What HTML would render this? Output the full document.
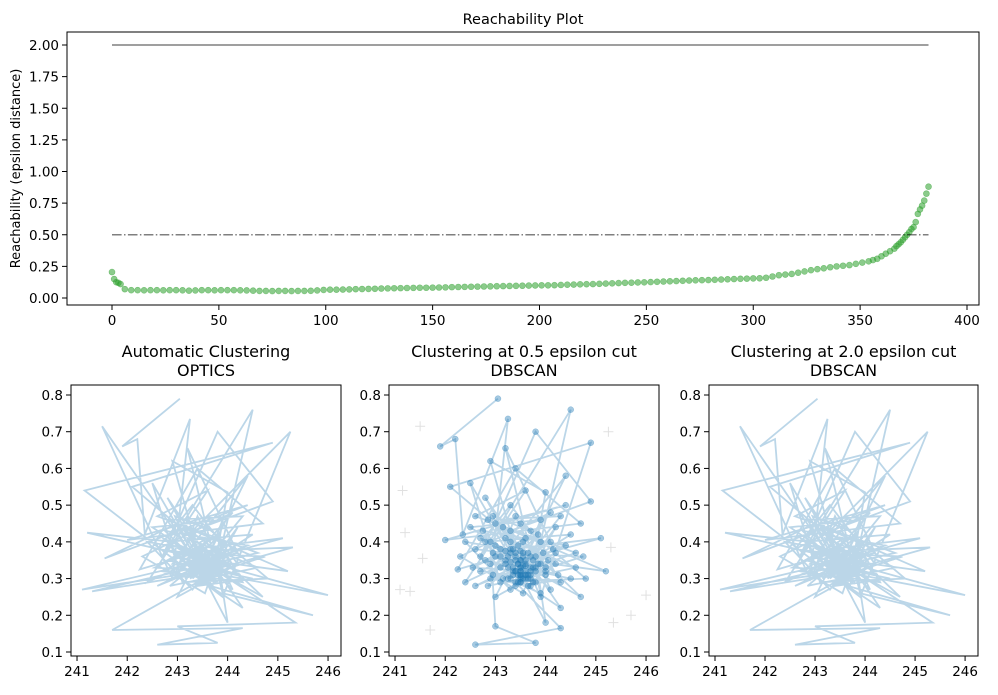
<!DOCTYPE html>
<html><head><meta charset="utf-8"><style>
body{margin:0;background:#fff;}
svg text{font-family:"DejaVu Sans","Liberation Sans",sans-serif;fill:#000;}
</style></head><body>
<svg id="fig" width="998" height="690" xmlns="http://www.w3.org/2000/svg"></svg>
<script>
const reachIdx=[0,1,2,3,4,6,
9,12,15,18,21,24,27,30,33,36,
39,42,45,48,51,54,57,60,63,66,
69,72,75,78,81,84,87,90,93,96,
99,102,105,108,111,114,117,120,123,126,
129,132,135,138,141,144,147,150,153,156,
159,162,165,168,171,174,177,180,183,186,
189,192,195,198,201,204,207,210,213,216,
219,222,225,228,231,234,237,240,243,246,
249,252,255,258,261,264,267,270,273,276,
279,282,285,288,291,294,297,300,303,306,
309,312,315,318,321,324,327,330,333,336,
339,342,345,348,351,354,
356,358,360,362,364,366,
367,368,369,370,371,372,373,374,375,376,377,378,379,380,381,382];
const reachVal=[0.205,0.15,0.125,0.12,0.11,0.07,
0.062,0.062,0.061,0.062,0.062,0.061,0.062,0.062,0.061,0.058,
0.06,0.062,0.062,0.061,0.062,0.062,0.062,0.061,0.06,0.058,
0.056,0.056,0.055,0.056,0.056,0.055,0.056,0.056,0.057,0.06,
0.064,0.066,0.066,0.067,0.068,0.07,0.071,0.072,0.073,0.075,
0.076,0.077,0.078,0.079,0.08,0.081,0.081,0.082,0.083,0.084,
0.086,0.087,0.088,0.089,0.09,0.091,0.092,0.093,0.094,0.095,
0.096,0.097,0.098,0.099,0.1,0.1,0.101,0.103,0.105,0.106,
0.108,0.109,0.11,0.112,0.114,0.116,0.118,0.12,0.121,0.123,
0.124,0.126,0.128,0.13,0.132,0.134,0.136,0.138,0.14,0.141,
0.142,0.144,0.146,0.148,0.15,0.152,0.153,0.155,0.156,0.16,
0.17,0.18,0.185,0.19,0.2,0.21,0.22,0.228,0.235,0.243,
0.25,0.255,0.26,0.27,0.28,0.29,
0.3,0.31,0.33,0.35,0.37,0.39,
0.41,0.425,0.44,0.46,0.48,0.5,0.52,0.545,0.56,0.6,0.665,0.7,0.73,0.77,0.825,0.88];
const reachXTicks=[0,50,100,150,200,250,300,350,400];
const reachYTicks=[0,0.25,0.5,0.75,1.0,1.25,1.5,1.75,2.0];
const threshHigh=2.0, threshLow=0.5;
const ptX=[243.05,241.9,242.2,242.35,243.25,242.9,241.5,243.7,244.5,242.7,243.8,244.9,243.3,245.25,243.9,241.15,244.9,242.1,244.0,246.0,243.5,241.1,244.2,243.2,243.9,245.7,243.4,241.7,244.3,242.6,243.8,243.0,245.35,242.9,241.2,243.6,245.2,243.0,241.55,244.4,242.0,244.7,243.4,242.25,243.5,245.3,243.35,241.3,244.6,242.6,243.6,242.4,244.1,243.1,244.3,242.8,243.7,244.0,242.9,243.5,244.4,243.2,242.5,243.9,243.4,244.5,242.8,243.6,243.0,244.2,243.3,242.6,243.8,244.0,243.5,242.95,243.7,244.3,242.7,243.4,244.1,242.3,243.55,243.9,242.85,244.6,243.2,243.6,242.5,243.1,244.8,243.5,242.9,243.75,244.2,243.3,242.4,243.65,244.0,243.0,243.45,244.4,242.75,243.8,243.25,244.7,243.55,242.95,243.4,244.1,243.6,242.6,243.95,243.35,244.5,242.8,243.5,244.05,243.15,243.7,242.55,243.45,244.25,243.3,243.85,243.1,243.6,244.75,242.95,243.5,244.15,243.25,243.75,242.7,243.55,243.4,244.3,242.85,243.65,243.3,245.1,243.5,
243.4,243.6,243.3,243.7,243.5,243.2,243.8,243.45,243.55,243.35,243.65,243.1,243.9,243.5,243.4,243.6,243.25,243.75,243.5,243.3,243.7,243.45,243.55,243.0,244.0,243.5,243.35,243.65,243.2,243.8,243.4,243.6,243.5,243.3,243.7,243.45,243.55,243.15,243.85,243.5];
const ptY=[0.79,0.66,0.68,0.42,0.735,0.3,0.715,0.28,0.76,0.36,0.70,0.51,0.43,0.70,0.25,0.54,0.67,0.55,0.33,0.255,0.32,0.27,0.37,0.655,0.26,0.20,0.29,0.16,0.165,0.12,0.125,0.17,0.18,0.40,0.425,0.35,0.32,0.45,0.355,0.5,0.405,0.45,0.6,0.325,0.375,0.385,0.31,0.265,0.37,0.47,0.54,0.29,0.40,0.33,0.22,0.52,0.30,0.535,0.62,0.33,0.58,0.375,0.44,0.46,0.28,0.3,0.35,0.41,0.25,0.34,0.50,0.38,0.36,0.18,0.31,0.47,0.43,0.29,0.32,0.37,0.48,0.36,0.26,0.40,0.28,0.33,0.41,0.30,0.56,0.29,0.30,0.45,0.34,0.33,0.44,0.27,0.40,0.37,0.31,0.39,0.34,0.39,0.43,0.29,0.36,0.25,0.40,0.31,0.47,0.27,0.335,0.28,0.37,0.32,0.42,0.40,0.29,0.35,0.44,0.32,0.33,0.39,0.31,0.345,0.42,0.36,0.31,0.36,0.37,0.305,0.38,0.30,0.35,0.41,0.335,0.32,0.47,0.46,0.28,0.38,0.41,0.35,
0.32,0.34,0.30,0.36,0.31,0.35,0.33,0.29,0.37,0.33,0.31,0.38,0.34,0.30,0.36,0.32,0.33,0.29,0.35,0.40,0.31,0.34,0.30,0.36,0.32,0.33,0.38,0.30,0.34,0.32,0.35,0.31,0.29,0.37,0.33,0.31,0.36,0.30,0.34,0.32];
const ptNoise=[0,0,0,0,0,0,1,0,0,0,0,0,0,1,0,1,0,0,0,1,0,1,0,0,0,1,0,1,0,0,0,0,1,0,1,0,0,0,1,0,0,0,0,0,0,1,0,1];
const scXTicks=[241,242,243,244,245,246];
const scYTicks=[0.1,0.2,0.3,0.4,0.5,0.6,0.7,0.8];

const svg=document.getElementById('fig');
const NS='http://www.w3.org/2000/svg';
function mk(tag,attrs,parent){const e=document.createElementNS(NS,tag);for(const k in attrs)e.setAttribute(k,attrs[k]);(parent||svg).appendChild(e);return e;}
function lin(d0,d1,r0,r1){return v=>r0+(v-d0)*(r1-r0)/(d1-d0);}
const FS=13.5;
function axesFrame(g,L,T,R,B,xs,ys,xt,yt,fmtX,fmtY){
  const ax=mk('g',{},g);
  
  
  xt.forEach(t=>{const x=xs(t);mk('line',{x1:x,x2:x,y1:B,y2:B+5,stroke:'#000','stroke-width':1},ax);
    const tx=mk('text',{x:x,y:B+20,'text-anchor':'middle','font-size':FS},ax);tx.textContent=fmtX(t);
    });
  const ay=mk('g',{},g);
  
  
  yt.forEach(t=>{const y=ys(t);mk('line',{x1:L-5,x2:L,y1:y,y2:y,stroke:'#000','stroke-width':1},ay);
    const tx=mk('text',{x:L-8,y:y+5,'text-anchor':'end','font-size':FS},ay);tx.textContent=fmtY(t);
    });
  const fr=mk('rect',{x:L,y:T,width:R-L,height:B-T,fill:'none',stroke:'#000','stroke-width':1},g);
  
}

(function(){
  const L=67,T=32,R=979,B=305;
  const xs=lin(0,400,112,967), ys=lin(0,2,298,45);
  const g=mk('g',{});
  
  
  const dots=mk('g',{},g);
  
  
  reachIdx.forEach((i,k)=>{mk('circle',{cx:xs(i),cy:ys(reachVal[k]),r:3,fill:'#2ca02c','fill-opacity':0.55,stroke:'#2ca02c','stroke-opacity':0.5,'stroke-width':0.6},dots);});
  const lastIdx=reachIdx[reachIdx.length-1];
  const h=mk('line',{x1:xs(0),x2:xs(lastIdx),y1:ys(threshHigh),y2:ys(threshHigh),stroke:'#000','stroke-opacity':0.5,'stroke-width':1.6},g);
  
  const l=mk('line',{x1:xs(0),x2:xs(lastIdx),y1:ys(threshLow),y2:ys(threshLow),stroke:'#000','stroke-opacity':0.5,'stroke-width':1.6,'stroke-dasharray':'9.6,2.4,1.5,2.4'},g);
  
  axesFrame(g,L,T,R,B,xs,ys,reachXTicks,reachYTicks,t=>String(t),t=>t.toFixed(2));
  const ti=mk('text',{x:(L+R)/2,y:24,'text-anchor':'middle','font-size':14.5},g);ti.textContent='Reachability Plot';
  
  const yl=mk('text',{x:0,y:0,'text-anchor':'middle','font-size':13,transform:'translate(20,'+((T+B)/2)+') rotate(-90)'},g);yl.textContent='Reachability (epsilon distance)';
  
})();

function scatterPanel(name,L,R,t1,t2,mode){
  const T=385,B=656;
  const xs=lin(241,246,L+(R-L)*0.0223,L+(R-L)*0.952), ys=lin(0.1,0.8,652,395);
  const g=mk('g',{});
  
  
  let d='';let first=true;
  ptX.forEach((x,i)=>{if(mode==='dbscan05'&&ptNoise[i])return;d+=(first?'M':'L')+xs(x).toFixed(1)+','+ys(ptY[i]).toFixed(1);first=false;});
  const p=mk('path',{d:d,fill:'none',stroke:'#1f77b4','stroke-opacity':0.3,'stroke-width':1.8},g);
  
  if(mode==='dbscan05'){
    ptX.forEach((x,i)=>{const cx=xs(x),cy=ys(ptY[i]);
      if(ptNoise[i]){const n=mk('path',{d:`M${cx-5},${cy}H${cx+5}M${cx},${cy-5}V${cy+5}`,stroke:'#000','stroke-opacity':0.12,'stroke-width':1},g);
        }
      else{const c=mk('circle',{cx:cx,cy:cy,r:3,fill:'#1f77b4','fill-opacity':0.4,stroke:'#1f77b4','stroke-opacity':0.4,'stroke-width':0.5},g);
        }
    });
  }
  axesFrame(g,L,T,R,B,xs,ys,scXTicks,scYTicks,t=>String(t),t=>t.toFixed(1));
  const a=mk('text',{x:(L+R)/2,y:357,'text-anchor':'middle','font-size':16},g);a.textContent=t1;
  
  const b=mk('text',{x:(L+R)/2,y:376,'text-anchor':'middle','font-size':16},g);b.textContent=t2;
  
}
scatterPanel('optics-panel',71,341,'Automatic Clustering','OPTICS','line');
scatterPanel('dbscan-0.5-panel',389,659,'Clustering at 0.5 epsilon cut','DBSCAN','dbscan05');
scatterPanel('dbscan-2.0-panel',709,978,'Clustering at 2.0 epsilon cut','DBSCAN','line');
</script>
</body></html>
